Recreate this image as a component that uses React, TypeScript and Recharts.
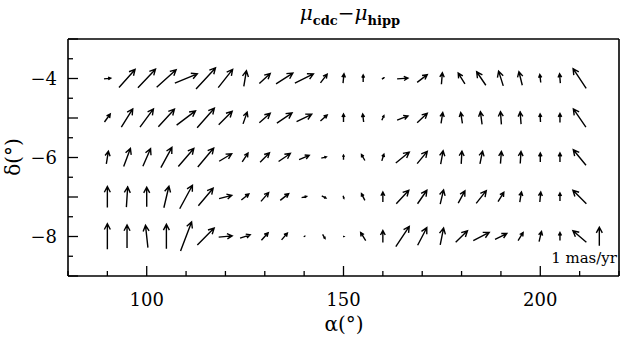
import { Scatter, ScatterChart, XAxis, YAxis } from "recharts";

// grid of field centres (degrees)
const RA = [90, 95, 100, 105, 110, 115, 120, 125, 130, 135, 140, 145, 150, 155, 160, 165, 170, 175, 180, 185, 190, 195, 200, 205, 210];
const DEC = [-4, -5, -6, -7, -8];

// proper-motion differences, mas/yr (u = along alpha, v = along delta)
const U_DEC4 = [0.36, 0.86, 0.94, 1.04, 1.2, 1.04, 0.77, 0.14, 0.58, 0.9, 0.99, 0.36, 0.05, 0, 0.1, 0.58, 0.54, 0.05, -0.36, -0.49, -0.25, -0.18, -0.05, -0.04, -0.7];
const V_DEC4 = [0.04, 0.97, 1.0, 0.94, 0.5, 1.13, 0.97, 0.83, 0.54, 0.58, 0.5, 0.47, 0.5, 0.38, 0.07, 0.04, 0.41, 0.61, 0.58, 0.72, 0.79, 0.72, 0.43, 0.5, 1.05];
const U_DEC5 = [0.31, 0.61, 0.72, 0.86, 1.01, 0.92, 0.72, 0.22, 0.58, 0.81, 0.81, 0.36, 0, -0.05, 0.11, 0.58, 0.54, 0.09, -0.09, -0.09, -0.05, -0.05, -0.02, 0, -0.67];
const V_DEC5 = [0.43, 0.97, 0.97, 0.94, 0.76, 1.05, 0.72, 0.63, 0.5, 0.54, 0.4, 0.32, 0.43, 0.43, 0.25, 0.22, 0.5, 0.58, 0.58, 0.68, 0.68, 0.65, 0.43, 0.47, 0.97];
const U_DEC6 = [0.11, 0.36, 0.41, 0.59, 0.83, 0.85, 0.67, 0.31, 0.5, 0.63, 0.54, 0.27, 0, -0.18, 0.11, 0.72, 0.54, 0.13, 0.04, 0.14, 0.05, 0.04, 0, 0, -0.68];
const V_DEC6 = [0.68, 0.97, 0.94, 1.08, 0.97, 1.01, 0.4, 0.47, 0.5, 0.43, 0.22, 0.07, 0.25, 0.32, 0.36, 0.58, 0.65, 0.72, 0.68, 0.68, 0.65, 0.65, 0.47, 0.47, 0.83];
const U_DEC7 = [0, 0.07, 0, 0.27, 0.68, 0.79, 0.68, 0.4, 0.41, 0.45, 0.27, 0.22, 0.04, -0.18, 0, 0.67, 0.5, 0.18, 0.36, 0.54, 0.31, 0.09, 0.05, 0, -0.72];
const V_DEC7 = [1.12, 1.08, 1.05, 1.15, 1.26, 0.94, 0.18, 0.32, 0.47, 0.36, 0.07, -0.11, -0.14, 0.36, 0.54, 0.72, 0.72, 0.76, 0.65, 0.68, 0.5, 0.54, 0.54, 0.43, 0.72];
const U_DEC8 = [0, 0, -0.13, 0, 0.59, 0.9, 0.72, 0.54, 0.36, 0.31, 0.05, 0.13, 0.05, -0.27, 0, 0.72, 0.49, 0.18, 0.63, 0.85, 0.63, 0.27, 0.13, 0, -0.72];
const V_DEC8 = [1.37, 1.23, 1.19, 1.3, 1.55, 0.9, 0.07, 0.18, 0.4, 0.36, 0.02, -0.22, 0, 0.43, 0.65, 1.08, 0.94, 0.9, 0.61, 0.43, 0.32, 0.43, 0.54, 0.43, 0.61];

const U_ROWS = [U_DEC4, U_DEC5, U_DEC6, U_DEC7, U_DEC8];
const V_ROWS = [V_DEC4, V_DEC5, V_DEC6, V_DEC7, V_DEC8];

// scale arrow placed at the bottom right
const KEY_ARROW = [{ ra: 215, dec: -8, u: 0, v: 1 }];

const X_TICKS = [80, 90, 100, 110, 120, 130, 140, 150, 160, 170, 180, 190, 200, 210, 220];
const X_LABELS = [100, 150, 200];
const Y_TICKS = [-9, -8.5, -8, -7.5, -7, -6.5, -6, -5.5, -5, -4.5, -4, -3.5, -3];
const Y_LABELS = [-4, -6, -8];

const PX_PER_MAS = 18.7;
const FONT = "DejaVu Serif";

const field = DEC.flatMap((dec, r) =>
	RA.map((ra, i) => ({ ra, dec, u: U_ROWS[r][i], v: V_ROWS[r][i] })),
);

function Arrow(props: any) {
	const { cx, cy, payload } = props;
	const dx = payload.u * PX_PER_MAS;
	const dy = -payload.v * PX_PER_MAS;
	const len = Math.hypot(dx, dy);
	if (len < 0.5) return <g />;
	const x1 = cx - dx / 2;
	const y1 = cy - dy / 2;
	const x2 = cx + dx / 2;
	const y2 = cy + dy / 2;
	const h = Math.min(6.5, len * 0.42);
	const ang = Math.atan2(dy, dx);
	const spread = 0.48;
	const ax = x2 - h * Math.cos(ang - spread);
	const ay = y2 - h * Math.sin(ang - spread);
	const bx = x2 - h * Math.cos(ang + spread);
	const by = y2 - h * Math.sin(ang + spread);
	return (
		<path
			d={`M${x1},${y1}L${x2},${y2}M${ax},${ay}L${x2},${y2}L${bx},${by}`}
			stroke="#000"
			strokeWidth={1.4}
			fill="none"
		/>
	);
}

const tickLen = (major: boolean) => (major ? 10 : 5);

function BottomTick({ x, y, payload }: any) {
	const major = payload.value % 50 === 0;
	return (
		<g>
			<line x1={x} x2={x} y1={y} y2={y - tickLen(major)} stroke="#000" strokeWidth={1.3} />
			{X_LABELS.includes(payload.value) && (
				<text x={x} y={y + 30} textAnchor="middle" fontFamily={FONT} fontSize={18} fill="#000">
					{payload.value}
				</text>
			)}
		</g>
	);
}

function TopTick({ x, y, payload }: any) {
	const major = payload.value % 50 === 0;
	return <line x1={x} x2={x} y1={y} y2={y + tickLen(major)} stroke="#000" strokeWidth={1.3} />;
}

function LeftTick({ x, y, payload }: any) {
	const major = payload.value % 1 === 0;
	return (
		<g>
			<line x1={x} x2={x + tickLen(major)} y1={y} y2={y} stroke="#000" strokeWidth={1.3} />
			{Y_LABELS.includes(payload.value) && (
				<text x={x - 11} y={y + 6.5} textAnchor="end" fontFamily={FONT} fontSize={18} fill="#000">
					{`\u2212${Math.abs(payload.value)}`}
				</text>
			)}
		</g>
	);
}

function RightTick({ x, y, payload }: any) {
	const major = payload.value % 1 === 0;
	return <line x1={x} x2={x - tickLen(major)} y1={y} y2={y} stroke="#000" strokeWidth={1.3} />;
}

const axisLine = { stroke: "#000", strokeWidth: 1.6 };

export default function App() {
	return (
		<div style={{ position: "absolute", left: 0, top: 0, background: "#fff" }}>
			<ScatterChart width={621} height={337} margin={{ top: 9, right: 0, bottom: 31, left: 8 }}>
				<XAxis
					type="number"
					dataKey="ra"
					domain={[80, 220]}
					ticks={X_TICKS}
					interval={0}
					tickSize={0}
					tickMargin={0}
					tickLine={false}
					axisLine={axisLine}
					height={30}
					tick={<BottomTick />}
				/>
				<XAxis
					xAxisId="top"
					orientation="top"
					type="number"
					domain={[80, 220]}
					ticks={X_TICKS}
					interval={0}
					tickSize={0}
					tickMargin={0}
					tickLine={false}
					axisLine={axisLine}
					height={30}
					tick={<TopTick />}
				/>
				<YAxis
					type="number"
					dataKey="dec"
					domain={[-9, -3]}
					ticks={Y_TICKS}
					interval={0}
					tickSize={0}
					tickMargin={0}
					tickLine={false}
					axisLine={axisLine}
					width={60}
					tick={<LeftTick />}
				/>
				<YAxis
					yAxisId="right"
					orientation="right"
					type="number"
					domain={[-9, -3]}
					ticks={Y_TICKS}
					interval={0}
					tickSize={0}
					tickMargin={0}
					tickLine={false}
					axisLine={axisLine}
					width={2}
					tick={<RightTick />}
				/>
				<Scatter data={field} shape={<Arrow />} isAnimationActive={false} />
				<Scatter data={KEY_ARROW} shape={<Arrow />} isAnimationActive={false} />
				<text x={617} y={263} textAnchor="end" fontFamily={FONT} fontSize={15} fill="#000">
					1 mas/yr
				</text>
				<text x={350} y={20} textAnchor="middle" fontFamily={FONT} fill="#000">
					<tspan fontStyle="italic" fontSize={20}>μ</tspan>
					<tspan fontWeight="bold" fontSize={13} dy={5}>cdc</tspan>
					<tspan fontSize={20} dy={-5}>{"\u2212"}</tspan>
					<tspan fontStyle="italic" fontSize={20}>μ</tspan>
					<tspan fontWeight="bold" fontSize={13} dy={5}>hipp</tspan>
				</text>
				<text x={344} y={331} textAnchor="middle" fontFamily={FONT} fontSize={20} fill="#000">
					α(°)
				</text>
				<text
					x={20}
					y={157}
					textAnchor="middle"
					fontFamily={FONT}
					fontSize={20}
					fill="#000"
					transform="rotate(-90, 20, 157)"
				>
					δ(°)
				</text>
			</ScatterChart>
		</div>
	);
}
